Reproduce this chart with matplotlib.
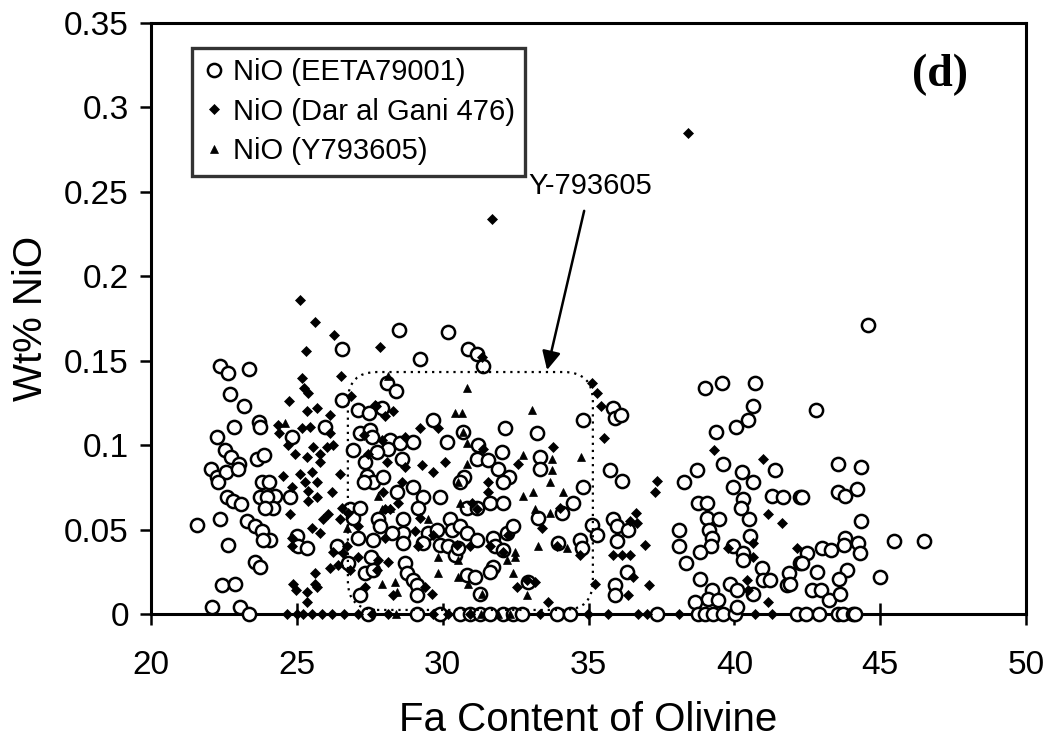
import matplotlib
matplotlib.use('Agg')
import matplotlib.pyplot as plt
from matplotlib.patches import FancyBboxPatch

plt.rcParams['font.family'] = ['Liberation Sans', 'DejaVu Sans']

# ── data ──────────────────────────────────────────────────────────────────────
eeta_x = [22.37, 22.64, 23.36, 26.55, 22.71, 23.19, 22.85, 23.70, 23.74, 22.26,
          22.54, 22.74, 23.02, 22.06, 22.26, 22.57, 22.98, 23.63, 23.87, 22.30,
          23.81, 24.05, 23.74, 24.25, 23.98, 24.18, 23.91, 22.61, 22.81, 23.09,
          21.58, 22.37, 23.29, 23.57, 23.81, 24.08, 23.84, 22.64, 23.57, 23.74,
          22.43, 22.88, 22.09, 23.05, 23.36, 24.77, 24.83, 25.97, 26.55, 26.92,
          27.10, 27.47, 27.16, 27.51, 27.58, 25.01, 25.04, 25.35, 26.38, 26.75,
          26.82, 26.92, 27.16, 27.40, 27.34, 27.61, 27.30, 27.10, 27.61, 27.34,
          27.61, 27.54, 27.16, 27.44, 27.78,
          28.50, 30.18, 29.22, 30.87, 31.18, 31.38, 28.09, 28.40, 27.92, 29.67,
          30.70, 32.14, 33.23, 30.15, 28.19, 28.54, 28.98, 28.12, 27.75, 28.60,
          31.21, 31.18, 31.55, 31.90, 32.03, 33.33, 33.33, 30.73, 30.59, 32.27,
          32.07, 27.95, 28.98, 29.32, 29.15, 28.43, 29.91, 30.83, 31.18, 31.62,
          32.07, 33.27, 34.09, 34.47, 34.81, 34.81, 27.85, 28.64, 28.64, 28.64,
          28.26, 29.50, 29.80, 30.25, 30.32, 30.59, 30.83, 29.32, 29.91, 30.18,
          30.42, 30.52, 31.18, 31.72, 31.79, 32.07, 32.20, 32.41, 33.95, 34.71,
          34.78, 28.71, 28.78, 28.98, 29.12, 29.12, 30.83, 31.11, 31.72, 31.62,
          31.28, 32.92, 29.12, 29.91, 30.59, 30.94, 31.28, 31.62, 32.07, 32.41,
          32.72, 33.92, 34.37,
          38.99, 39.58, 40.71, 40.64, 40.47, 40.05, 39.37, 35.84, 35.91, 36.11,
          39.61, 38.72, 40.26, 41.39, 35.74, 36.15, 40.64, 38.27, 39.95, 41.29,
          41.67, 42.25, 40.30, 40.23, 38.75, 39.06, 39.06, 39.47, 40.50, 35.84,
          35.98, 36.35, 35.12, 35.29, 38.10, 38.10, 39.13, 39.23, 39.20, 38.82,
          40.53, 39.95, 40.30, 40.30, 35.98, 38.34, 40.95, 40.98, 41.22, 41.87,
          41.80, 36.32, 38.82, 39.85, 40.09, 35.91, 35.91, 40.64, 39.23, 39.09,
          39.44, 38.65, 42.25, 37.35, 38.75, 38.99, 39.27, 39.61, 40.02, 40.09,
          42.15,
          44.58, 42.80, 43.55, 44.34, 42.32, 43.55, 43.79, 44.20, 44.34, 43.79,
          43.76, 44.24, 44.31, 43.00, 43.31, 42.49, 42.32, 45.47, 46.50, 41.90,
          42.83, 43.86, 43.59, 44.99, 42.66, 42.97, 43.24, 43.62, 42.45, 42.90,
          43.55, 43.72, 44.07, 44.13]
eeta_y = [0.147, 0.143, 0.145, 0.157, 0.130, 0.123, 0.111, 0.114, 0.111, 0.105,
          0.097, 0.093, 0.089, 0.086, 0.081, 0.084, 0.086, 0.092, 0.094, 0.078,
          0.078, 0.078, 0.069, 0.070, 0.069, 0.063, 0.063, 0.069, 0.067, 0.065,
          0.053, 0.056, 0.055, 0.052, 0.049, 0.044, 0.044, 0.041, 0.031, 0.028,
          0.017, 0.018, 0.004, 0.004, 0.000, 0.069, 0.105, 0.111, 0.127, 0.097,
          0.121, 0.119, 0.107, 0.109, 0.105, 0.046, 0.040, 0.039, 0.040, 0.030,
          0.062, 0.057, 0.063, 0.082, 0.090, 0.078, 0.078, 0.045, 0.044, 0.024,
          0.026, 0.034, 0.011, 0.000, 0.056,
          0.168, 0.167, 0.151, 0.157, 0.154, 0.147, 0.137, 0.132, 0.122, 0.115,
          0.108, 0.110, 0.107, 0.102, 0.103, 0.101, 0.102, 0.098, 0.096, 0.092,
          0.100, 0.092, 0.091, 0.086, 0.096, 0.093, 0.086, 0.081, 0.078, 0.081,
          0.078, 0.081, 0.075, 0.069, 0.063, 0.072, 0.069, 0.063, 0.063, 0.066,
          0.066, 0.057, 0.060, 0.066, 0.075, 0.115, 0.052, 0.056, 0.048, 0.042,
          0.048, 0.048, 0.050, 0.056, 0.050, 0.052, 0.048, 0.042, 0.041, 0.040,
          0.035, 0.039, 0.044, 0.045, 0.040, 0.038, 0.048, 0.052, 0.042, 0.044,
          0.039, 0.030, 0.024, 0.020, 0.017, 0.011, 0.023, 0.022, 0.028, 0.025,
          0.012, 0.019, 0.000, 0.000, 0.000, 0.000, 0.000, 0.000, 0.000, 0.000,
          0.000, 0.000, 0.000,
          0.134, 0.137, 0.137, 0.123, 0.115, 0.111, 0.108, 0.122, 0.116, 0.118,
          0.089, 0.085, 0.084, 0.085, 0.085, 0.079, 0.078, 0.078, 0.075, 0.070,
          0.069, 0.069, 0.068, 0.063, 0.066, 0.066, 0.057, 0.056, 0.056, 0.056,
          0.052, 0.050, 0.053, 0.047, 0.050, 0.040, 0.050, 0.045, 0.040, 0.037,
          0.046, 0.040, 0.036, 0.032, 0.043, 0.030, 0.027, 0.020, 0.020, 0.024,
          0.017, 0.025, 0.021, 0.018, 0.014, 0.017, 0.011, 0.012, 0.014, 0.009,
          0.008, 0.007, 0.030, 0.000, 0.000, 0.000, 0.000, 0.000, 0.000, 0.004,
          0.000,
          0.171, 0.121, 0.089, 0.087, 0.069, 0.072, 0.070, 0.074, 0.055, 0.045,
          0.041, 0.042, 0.036, 0.039, 0.038, 0.036, 0.030, 0.043, 0.043, 0.018,
          0.025, 0.026, 0.021, 0.022, 0.014, 0.014, 0.008, 0.012, 0.000, 0.000,
          0.000, 0.000, 0.000, 0.000]

dag_x = [25.11, 25.62, 26.27, 25.31, 26.51, 25.18, 25.25, 25.38, 24.73, 26.86,
         25.35, 25.69, 26.14, 24.35, 24.39, 25.18, 25.45, 26.14, 24.70, 25.55,
         25.79, 26.03, 26.24, 24.94, 25.35, 25.79, 24.53, 25.11, 25.52, 25.28,
         25.69, 26.48, 24.83, 25.38, 25.69, 25.38, 26.21, 24.77, 26.55, 26.48,
         26.75, 25.90, 26.07, 25.52, 25.79, 27.10, 24.83, 24.83, 26.24, 26.58,
         26.72, 26.14, 26.41, 25.62, 27.10, 26.82, 24.87, 24.97, 25.35, 25.62,
         25.69, 25.35, 27.34, 24.66, 25.00, 25.20, 25.52, 25.86, 26.21, 26.60,
         27.10, 27.71, 27.30, 27.44, 27.85,
         31.35, 27.68, 28.02, 28.30, 29.22, 29.84, 28.71, 27.92, 28.09, 29.29,
         28.71, 29.67, 30.08, 28.60, 31.38, 33.78, 32.58, 27.95, 28.02, 28.19,
         28.47, 29.22, 29.05, 31.55, 31.55, 29.67, 31.00, 31.18, 34.02, 33.40,
         28.02, 29.15, 30.94, 31.62, 32.07, 32.24, 30.49, 33.92, 27.78, 28.12,
         27.75, 34.71, 32.55, 32.89, 33.16, 29.39, 29.63, 28.30, 33.61, 27.58,
         28.12, 29.67, 30.18, 30.94, 33.33,
         35.12, 35.29, 35.43, 35.53, 37.35, 37.28, 39.30, 40.98, 41.15, 41.63,
         36.63, 36.42, 36.66, 36.94, 36.15, 36.42, 35.84, 39.78, 40.64, 40.64,
         42.15, 36.53, 35.22, 37.07, 36.35, 40.43, 40.47, 41.15, 34.98, 35.67,
         36.70, 37.00, 38.10, 40.71, 41.29,
         31.70, 38.40]
dag_y = [0.186, 0.173, 0.165, 0.156, 0.141, 0.140, 0.134, 0.131, 0.126, 0.129,
         0.120, 0.122, 0.118, 0.112, 0.107, 0.110, 0.111, 0.107, 0.100, 0.099,
         0.095, 0.099, 0.100, 0.095, 0.093, 0.090, 0.082, 0.083, 0.084, 0.078,
         0.078, 0.083, 0.075, 0.073, 0.069, 0.067, 0.072, 0.059, 0.063, 0.056,
         0.060, 0.056, 0.059, 0.051, 0.048, 0.052, 0.045, 0.040, 0.037, 0.036,
         0.040, 0.027, 0.029, 0.024, 0.034, 0.026, 0.018, 0.014, 0.013, 0.018,
         0.016, 0.007, 0.016, 0.000, 0.000, 0.000, 0.000, 0.000, 0.000, 0.000,
         0.000, 0.123, 0.106, 0.095, 0.158,
         0.152, 0.124, 0.117, 0.120, 0.110, 0.110, 0.105, 0.103, 0.090, 0.088,
         0.087, 0.084, 0.090, 0.078, 0.098, 0.099, 0.089, 0.072, 0.062, 0.062,
         0.066, 0.057, 0.049, 0.078, 0.072, 0.047, 0.066, 0.062, 0.063, 0.051,
         0.045, 0.040, 0.040, 0.040, 0.037, 0.047, 0.041, 0.040, 0.032, 0.031,
         0.026, 0.035, 0.016, 0.020, 0.019, 0.016, 0.012, 0.011, 0.007, 0.000,
         0.000, 0.000, 0.000, 0.000, 0.000,
         0.137, 0.131, 0.123, 0.104, 0.079, 0.072, 0.097, 0.092, 0.059, 0.054,
         0.060, 0.055, 0.054, 0.041, 0.035, 0.035, 0.035, 0.039, 0.042, 0.034,
         0.039, 0.022, 0.018, 0.017, 0.011, 0.020, 0.014, 0.007, 0.000, 0.000,
         0.000, 0.000, 0.000, 0.000, 0.000,
         0.234, 0.285]

y79_x = [24.59, 26.72, 27.78, 28.12, 30.83, 30.42, 30.66, 33.06, 30.70, 30.83,
         33.75, 33.75, 33.68, 30.83, 34.74, 32.75, 30.52, 32.75, 33.10, 34.12,
         30.59, 33.16, 33.68, 29.50, 27.92, 28.19, 33.27, 34.26, 29.84, 32.48,
         32.48, 32.20, 30.52, 29.84, 30.52, 32.41, 27.92, 28.36, 28.43, 32.89,
         30.87, 31.35, 28.40, 31.30, 31.90, 32.30]
y79_y = [0.113, 0.051, 0.070, 0.141, 0.134, 0.119, 0.119, 0.121, 0.108, 0.101,
         0.092, 0.085, 0.078, 0.089, 0.093, 0.094, 0.078, 0.070, 0.072, 0.072,
         0.066, 0.062, 0.060, 0.056, 0.062, 0.063, 0.040, 0.039, 0.034, 0.037,
         0.034, 0.032, 0.032, 0.024, 0.022, 0.024, 0.018, 0.019, 0.013, 0.011,
         0.018, 0.012, 0.000, 0.000, 0.000, 0.000]

xticks = [20, 25, 30, 35, 40, 45, 50]
yticks = [0, 0.05, 0.1, 0.15, 0.2, 0.25, 0.3, 0.35]
ytick_labels = ['0', '0.05', '0.1', '0.15', '0.2', '0.25', '0.3', '0.35']

# Y-793605 box corners and arrow
box_x0, box_x1 = 26.75, 35.15
box_y0, box_y1 = 0.0024, 0.1433
arrow_tip = (33.58, 0.1445)
label_pos = (35.05, 0.2535)

# ── figure ─────────────────────────────────────────────────────────────────────
fig = plt.figure(figsize=(10.46, 7.39), dpi=100)
ax = fig.add_axes([0.14436, 0.16915, 0.83652, 0.79973])

ax.plot(eeta_x, eeta_y, ls='none', marker='o', ms=9.5, mfc='white', mec='black',
        mew=1.8, clip_on=False, label='NiO (EETA79001)', zorder=3)
ax.plot(dag_x, dag_y, ls='none', marker='D', ms=5.2, mfc='black', mec='black',
        mew=0.5, clip_on=False, label='NiO (Dar al Gani 476)', zorder=4)
ax.plot(y79_x, y79_y, ls='none', marker='^', ms=5.5, mfc='black', mec='black',
        mew=0.5, clip_on=False, label='NiO (Y793605)', zorder=4)

# dotted rounded box around the Y-793605 cluster
asp = (1 / 1688.6) / (1 / 29.17)
box = FancyBboxPatch((box_x0, box_y0), box_x1 - box_x0, box_y1 - box_y0,
                     boxstyle='round,pad=0,rounding_size=1.0', mutation_aspect=asp,
                     fill=False, ec='black', lw=1.6, ls=(0, (1, 2.2)), zorder=5)
ax.add_patch(box)
ax.annotate('Y-793605', xy=arrow_tip, xytext=label_pos, ha='center', va='center',
            fontsize=21,
            arrowprops=dict(arrowstyle='-|>', color='black', lw=1.8,
                            mutation_scale=28, shrinkA=6, shrinkB=0))

ax.text(0.902, 0.912, '(d)', transform=ax.transAxes, ha='center', va='center',
        fontsize=33, fontweight='bold', family=['Liberation Serif', 'DejaVu Serif'])

ax.set_xlim(20, 50)
ax.set_ylim(0, 0.35)
ax.set_xticks(xticks)
ax.set_yticks(yticks)
ax.set_yticklabels(ytick_labels)
ax.tick_params(axis='x', direction='inout', length=16, width=1.8, labelsize=24, pad=18)
ax.tick_params(axis='y', direction='out', length=8, width=1.8, labelsize=24, pad=8)
for s in ax.spines.values():
    s.set_linewidth(2.2)

ax.set_xlabel('Fa Content of Olivine', fontsize=29, labelpad=14)
ax.set_ylabel('Wt% NiO', fontsize=29, labelpad=10)

leg = ax.legend(loc='upper left', bbox_to_anchor=(0.047, 0.958), borderaxespad=0,
                fontsize=21, frameon=True, fancybox=False, handletextpad=0.25,
                handlelength=0.8, borderpad=0.35, labelspacing=0.4)
leg.get_frame().set_edgecolor('black')
leg.get_frame().set_linewidth(2.4)

fig.savefig('out.png', dpi=100)
